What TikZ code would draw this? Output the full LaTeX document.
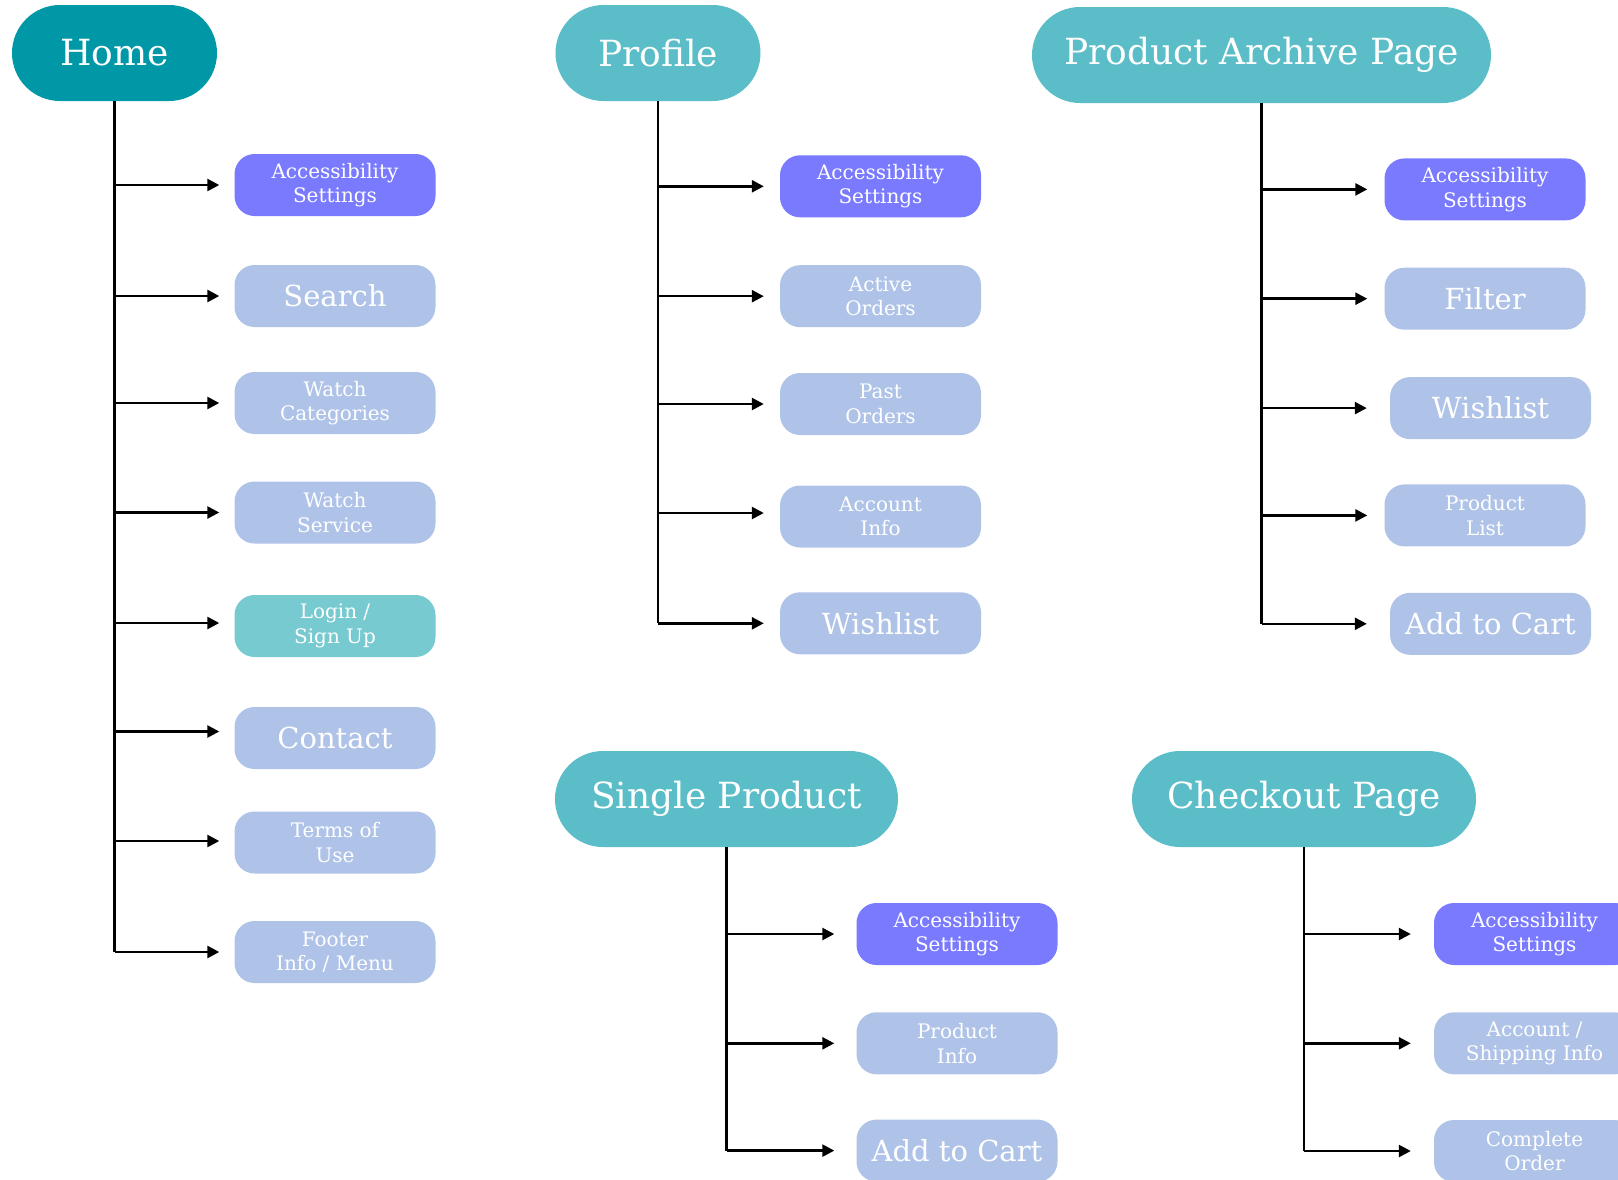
\documentclass[tikz,border=0pt]{standalone}
\usepackage{fontspec}
\setmainfont{DejaVu Serif}
\usetikzlibrary{arrows.meta}
\definecolor{hometeal}{HTML}{0098A6}
\definecolor{pillteal}{HTML}{5ABDC7}
\definecolor{accblue}{HTML}{7A7AFF}
\definecolor{lightblue}{HTML}{AFC3E8}
\definecolor{logincol}{HTML}{77CAD0}
\begin{document}
\begin{tikzpicture}[x=1pt,y=-1pt,
  pill/.style={rounded corners=48pt, minimum height=96pt, inner sep=0pt, text=white,
    font=\fontsize{36}{44}\selectfont},
  item/.style={rounded corners=20pt, minimum width=201pt, minimum height=62pt, inner sep=0pt,
    text=white, align=center},
  small/.style={font=\fontsize{20}{24.5}\selectfont},
  big/.style={font=\fontsize{29}{36}\selectfont},
  acc/.style={item, fill=accblue, small},
  lbs/.style={item, fill=lightblue, small},
  lbb/.style={item, fill=lightblue, big},
  trunk/.style={line width=2.5pt},
  arr/.style={line width=2.5pt, -{Triangle[length=12pt,width=12pt]}, shorten >=#1},
  arr/.default=15pt]
\useasboundingbox (0,0) rectangle (1618,1179);
\clip (0,0) rectangle (1618,1179);

% pills
\node[pill, fill=hometeal, minimum width=205pt] (home) at (114.5,53) {Home};
\node[pill, fill=pillteal, minimum width=205pt] (prof) at (658,53) {Profile};
\node[pill, fill=pillteal, minimum width=459pt] (pa) at (1261.5,55) {Product Archive Page};
\node[pill, fill=pillteal, minimum width=343pt] (sp) at (726.5,799) {Single Product};
\node[pill, fill=pillteal, minimum width=344pt] (co) at (1304,799) {Checkout Page};

% Home column
\node[acc] (h1) at (335,185) {Accessibility\\Settings};
\node[lbb] (h2) at (335,296) {Search};
\node[lbs] (h3) at (335,403) {Watch\\Categories};
\node[lbs] (h4) at (335,512.5) {Watch\\Service};
\node[item, fill=logincol, small] (h5) at (335,626) {Login /\\Sign Up};
\node[lbb] (h6) at (335,738) {Contact};
\node[lbs] (h7) at (335,842.5) {Terms of\\Use};
\node[lbs] (h8) at (335,952) {Footer\\Info / Menu};

% Profile column
\node[acc] (p1) at (880.5,186.3) {Accessibility\\Settings};
\node[lbs] (p2) at (880.5,296.2) {Active\\Orders};
\node[lbs] (p3) at (880.5,404) {Past\\Orders};
\node[lbs] (p4) at (880.5,516.5) {Account\\Info};
\node[lbb] (p5) at (880.5,623.3) {Wishlist};

% Product archive column
\node[acc] (a1) at (1485,189.4) {Accessibility\\Settings};
\node[lbb] (a2) at (1485,298.7) {Filter};
\node[lbb] (a3) at (1490.5,408.1) {Wishlist};
\node[lbs] (a4) at (1485,515.4) {Product\\List};
\node[lbb] (a5) at (1490.5,623.8) {Add to Cart};

% Single product column
\node[acc] (s1) at (957,934) {Accessibility\\Settings};
\node[lbs] (s2) at (957,1043.3) {Product\\Info};
\node[lbb] (s3) at (957,1150.6) {Add to Cart};

% Checkout column
\node[acc] (c1) at (1534.5,934) {Accessibility\\Settings};
\node[lbs] (c2) at (1534.5,1043.3) {Account /\\Shipping Info};
\node[lbs] (c3) at (1534.5,1151) {Complete\\Order};

% arrow end coordinates slightly above box centres
\coordinate (h5e) at ([yshift=3pt]h5.west);
\coordinate (h6e) at ([yshift=6.5pt]h6.west);
\coordinate (h7e) at ([yshift=1.5pt]h7.west);
\coordinate (p4e) at ([yshift=3.5pt]p4.west);

% trunks
\draw[trunk] (home.south) -- (home.south |- h8.west);
\draw[trunk] (prof.south) -- (prof.south |- p5.west);
\draw[trunk] (pa.south) -- (pa.south |- a5.west);
\draw[trunk] (sp.south) -- (sp.south |- s3.west);
\draw[trunk] (co.south) -- (co.south |- c3.west);

% Home arrows
\foreach \n in {h1,h2,h3,h4,h8}
  \draw[arr] (home.south |- \n.west) -- (\n.west);
\foreach \n in {h5e,h6e,h7e}
  \draw[arr] (home.south |- \n) -- (\n);

% Profile arrows
\foreach \n in {p1,p2,p3,p5}
  \draw[arr=16pt] (prof.south |- \n.west) -- (\n.west);
\draw[arr=16pt] (prof.south |- p4e) -- (p4e);

% Product archive arrows
\foreach \n in {a1,a2,a4}
  \draw[arr=17pt] (pa.south |- \n.west) -- (\n.west);
\foreach \n in {a3,a5}
  \draw[arr=23pt] (pa.south |- \n.west) -- (\n.west);

% Single product arrows
\foreach \n in {s1,s2,s3}
  \draw[arr=22pt] (sp.south |- \n.west) -- (\n.west);

% Checkout arrows
\foreach \n in {c1,c2,c3}
  \draw[arr=23pt] (co.south |- \n.west) -- (\n.west);
\end{tikzpicture}
\end{document}
